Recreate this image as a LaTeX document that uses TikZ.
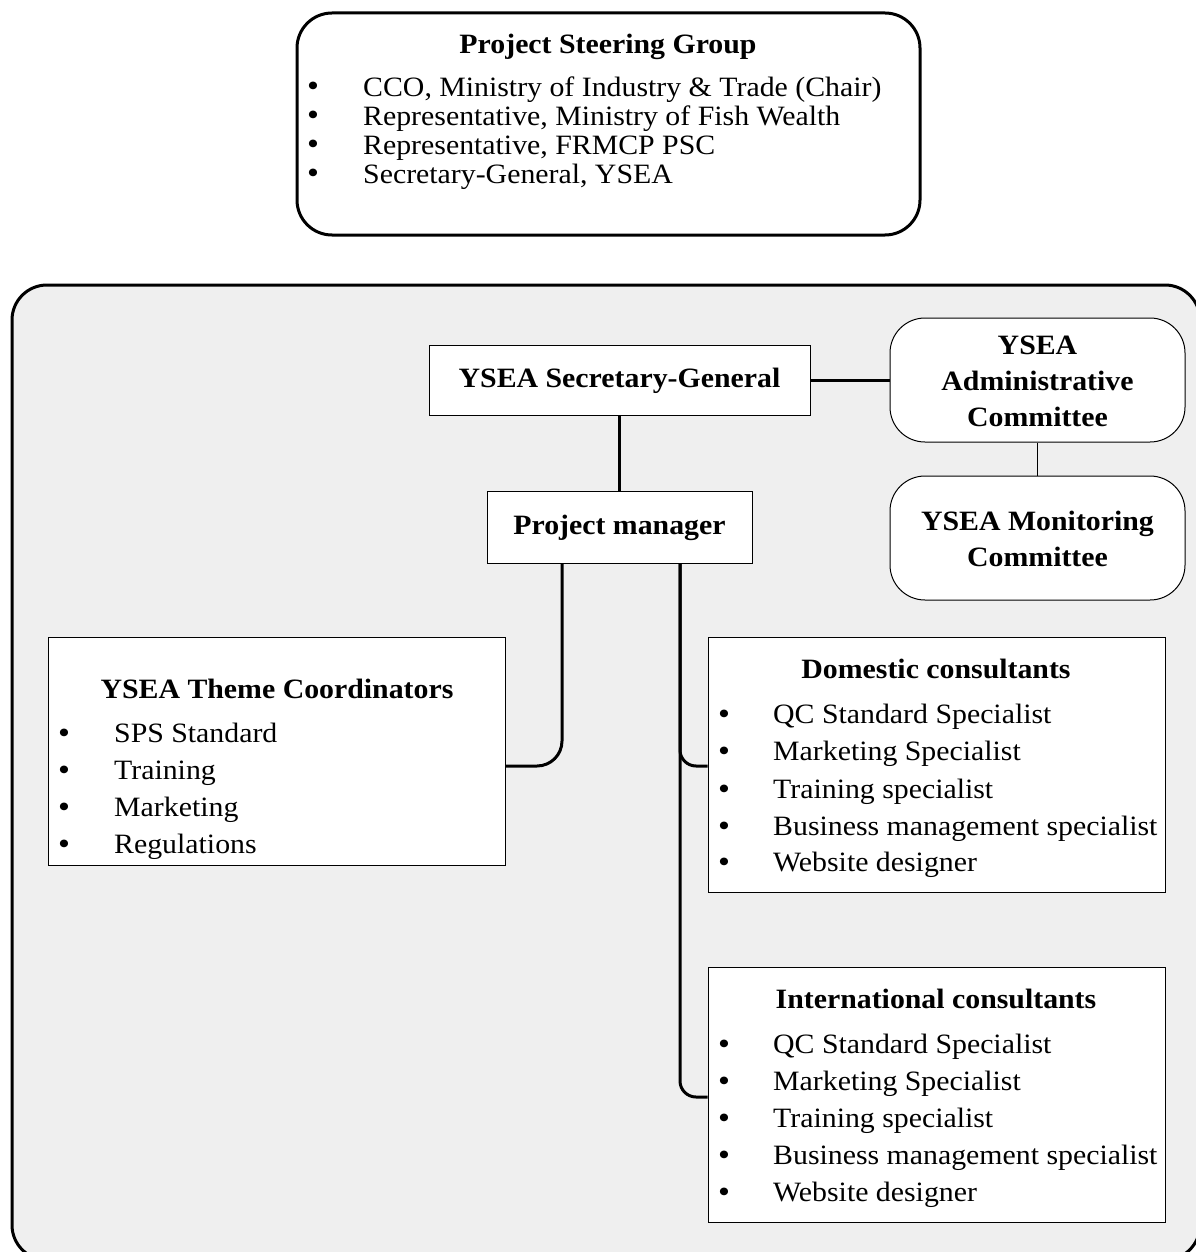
\documentclass[tikz,border=0pt]{standalone}
\usepackage{fontspec}
\setmainfont[FakeStretch=1.065]{Liberation Serif}
\definecolor{bg}{HTML}{EFEFEF}
\newcommand\fsz{\fontsize{28}{36}\selectfont}
\newcommand\bulsz{\fontsize{32}{32}\selectfont}
\tikzset{
  outerbox/.style={draw, line width=3pt, rounded corners=35pt, fill=bg},
  grpbox/.style={draw, line width=3pt, rounded corners=35pt, fill=white},
  sqbox/.style={draw, line width=1pt, fill=white, inner sep=0pt},
  rndbox/.style={draw, line width=1pt, rounded corners=35pt, fill=white, inner sep=0pt},
  conn/.style={line width=3pt},
  thinconn/.style={line width=1pt},
  item/.style={inner sep=0pt, anchor=mid west, font=\fsz, yshift=-7pt},
  bul/.style={inner sep=0pt, anchor=base, font=\bulsz, text height=13pt, text depth=0pt, yshift=-10pt},
  ttl/.style={inner sep=0pt, anchor=center, font=\fsz\bfseries, align=center},
}
\begin{document}
\begin{tikzpicture}[x=1pt,y=-1pt]
\useasboundingbox (0,0) rectangle (1195,1252);
\fill[white] (0,0) rectangle (1195,1252);

% top group
\node[grpbox, minimum width=623pt, minimum height=222pt] (psg) at (608.5,124) {};
\node[ttl] (psgt) at (608,47) {Project Steering Group};
\foreach \i/\t [count=\k] in {87/{CCO, Ministry of Industry \& Trade (Chair)},116/{Representative, Ministry of Fish Wealth},145/{Representative, FRMCP PSC},174/{Secretary-General, YSEA}} {
  \node[bul] (psgb\k) at (313,\i) {\textbullet};
  \node[item] (psgi\k) at (363,\i) {\t};
}

% outer area
\path[outerbox] (12,285) rectangle (1200,1260);

% nodes
\node[sqbox, minimum width=381pt, minimum height=70pt] (sg) at (619.5,380) {};
\node[ttl] (sgt) at (619.5,381) {YSEA Secretary-General};

\node[rndbox, minimum width=295pt, minimum height=124pt] (adm) at (1037.5,380) {};
\node[ttl] (admt) at (1037.5,381) {YSEA\\Administrative\\Committee};

\node[rndbox, minimum width=295pt, minimum height=124pt] (mon) at (1037.5,538) {};
\node[ttl] (mont) at (1037.5,539) {YSEA Monitoring\\Committee};

\node[sqbox, minimum width=265pt, minimum height=72pt] (pm) at (619.5,527) {};
\node[ttl] (pmt) at (619.5,528) {Project manager};

\node[sqbox, minimum width=457pt, minimum height=228pt] (thm) at (276.5,751) {};
\node[ttl] (thmt) at (277,689) {YSEA Theme Coordinators};
\foreach \i/\t [count=\k] in {733/SPS Standard,770/Training,807/Marketing,844/Regulations} {
  \node[bul] (thmb\k) at (64,\i) {\textbullet};
  \node[item] (thmi\k) at (114,\i) {\t};
}

\node[sqbox, minimum width=457pt, minimum height=255pt] (dom) at (936.5,764.5) {};
\node[ttl] (domt) at (936,669) {Domestic consultants};
\foreach \i/\t [count=\k] in {714/QC Standard Specialist,751/Marketing Specialist,789/Training specialist,826/Business management specialist,862/Website designer} {
  \node[bul] (domb\k) at (724,\i) {\textbullet};
  \node[item] (domi\k) at (773,\i) {\t};
}

\node[sqbox, minimum width=457pt, minimum height=255pt] (intl) at (936.5,1094.5) {};
\node[ttl] (intlt) at (936,999) {International consultants};
\foreach \i/\t [count=\k] in {1044/QC Standard Specialist,1081/Marketing Specialist,1118/Training specialist,1155/Business management specialist,1192/Website designer} {
  \node[bul] (intlb\k) at (724,\i) {\textbullet};
  \node[item] (intli\k) at (773,\i) {\t};
}

% connectors
\coordinate (xl) at (562,0);
\coordinate (xr) at (680,0);
\coordinate (yd) at (0,766);
\coordinate (yi) at (0,1097);
\draw[conn] (sg.east) -- (adm.west);
\draw[thinconn] (adm.south) -- (mon.north);
\draw[conn] (sg.south) -- (pm.north);
\draw[conn, rounded corners=25pt] (pm.south -| xl) |- (thm.east |- yd);
\draw[conn, rounded corners=16pt] (pm.south -| xr) |- (dom.west |- yd);
\draw[conn, rounded corners=16pt] (pm.south -| xr) |- (intl.west |- yi);
\end{tikzpicture}
\end{document}
